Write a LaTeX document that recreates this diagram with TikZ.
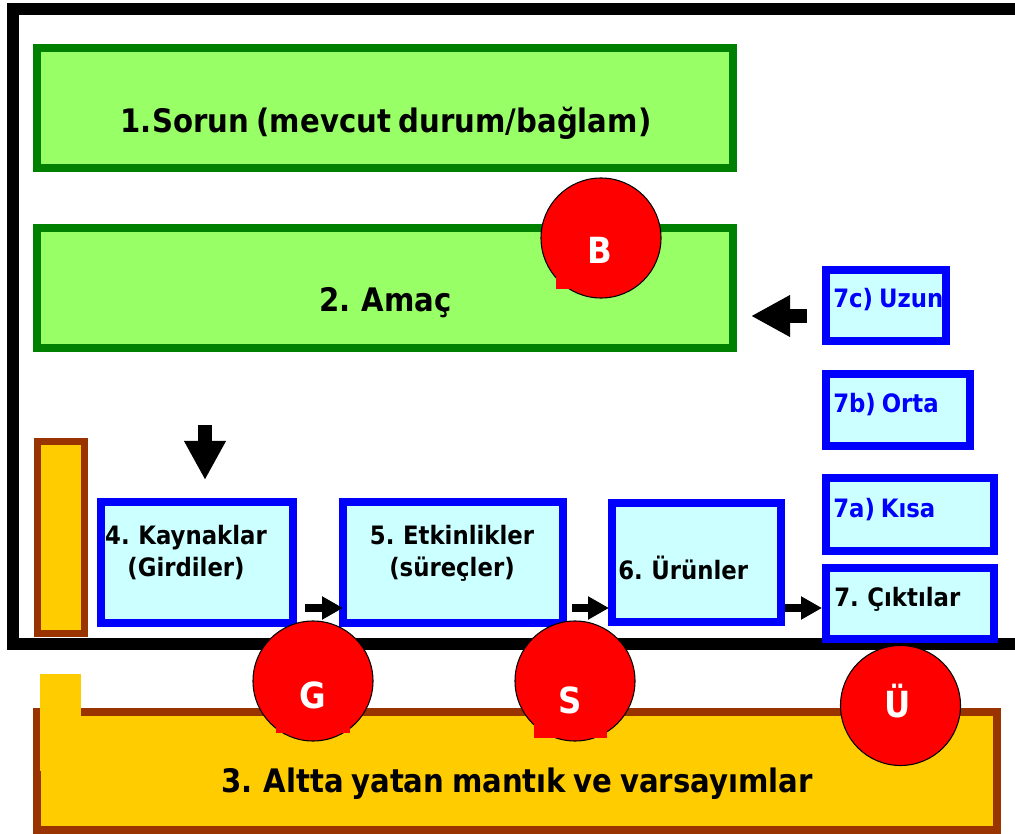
\documentclass[tikz,border=0pt]{standalone}
\usepackage{fontspec}
\setmainfont{DejaVu Sans}[FakeStretch=0.9, WordSpace=0.75]
\usetikzlibrary{arrows.meta,calc}
\definecolor{gfill}{HTML}{99FF66}
\definecolor{gline}{HTML}{008000}
\definecolor{cfill}{HTML}{CCFFFF}
\definecolor{bline}{HTML}{0000FF}
\definecolor{ofill}{HTML}{FFCC00}
\definecolor{oline}{HTML}{993300}
\definecolor{rfill}{HTML}{FF0000}
\begin{document}
\begin{tikzpicture}[x=0.75pt,y=-0.75pt,
  gbox/.style={draw=gline, fill=gfill, line width=6pt, inner sep=0pt, outer sep=0pt, rectangle},
  cbox/.style={draw=bline, fill=cfill, line width=6pt, inner sep=0pt, outer sep=0pt, rectangle},
  obox/.style={draw=oline, fill=ofill, inner sep=0pt, outer sep=0pt, rectangle},
  rdot/.style={circle, draw=black, line width=0.8pt, fill=rfill, minimum size=90pt, inner sep=0pt, outer sep=0pt},
  rsq/.style={fill=rfill, draw=none},
  big/.style={font=\fontsize{24.3}{30}\selectfont\bfseries, inner sep=0pt},
  small/.style={font=\fontsize{19}{24}\selectfont\bfseries, inner sep=0pt, align=center},
  letter/.style={font=\fontsize{27}{30}\selectfont\bfseries, text=white, inner sep=0pt},
  smallarrow/.style={line width=6pt, -{Triangle[length=15.75pt, width=16.5pt]}},
  bigarrow/.style={line width=10.5pt, -{Triangle[length=29.25pt, width=29.25pt]}}
]
\useasboundingbox (0,0) rectangle (1015,834);
\clip (0,0) rectangle (1015,834);
\fill[white] (0,0) rectangle (1015,834);

% frame
\draw[line width=9pt, line join=miter] (1040,9) -- (13,9) -- (13,644) -- (1040,644);

% green boxes
\node[gbox, minimum width=522pt, minimum height=90pt] (sorun) at (385,108) {};
\node[big] (sorunt) at (386,123) {1.Sorun (mevcut durum/bağlam)};
\node[gbox, minimum width=522pt, minimum height=90pt] (amac) at (385,288) {};
\node[big] (amact) at (385.5,303) {2. Amaç};

% circle B
\node[rdot] (cb) at (601,238) {};
\fill[rsq] (556,277) rectangle (570,289);
\node[letter] (cbt) at (600,250) {B};

% result boxes
\node[cbox, minimum width=90pt, minimum height=53.6pt] (u7c) at (886,305.25) {};
\node[small, anchor=west, text=bline] (u7ct) at (833,300) {7c) Uzun};
\node[cbox, minimum width=108pt, minimum height=54pt] (u7b) at (898,410) {};
\node[small, anchor=west, text=bline] (u7bt) at (833,405) {7b) Orta};
\node[cbox, minimum width=126pt, minimum height=54pt] (u7a) at (910,514.5) {};
\node[small, anchor=west, text=bline] (u7at) at (833,510) {7a) Kısa};
\node[cbox, minimum width=126pt, minimum height=53.25pt] (k7) at (910,603.5) {};
\node[small, anchor=west] (k7t) at (834,599) {7. Çıktılar};

% process boxes
\node[cbox, minimum width=144pt, minimum height=90.75pt] (k4) at (197,562.5) {};
\node[small] (k4t) at (186,553) {4. Kaynaklar\\(Girdiler)};
\node[cbox, minimum width=165pt, minimum height=90.75pt] (k5) at (453,562.5) {};
\node[small] (k5t) at (452,553) {5. Etkinlikler\\(süreçler)};
\node[cbox, minimum width=126.75pt, minimum height=89.25pt] (k6) at (696.5,562.5) {};
\node[small, anchor=west] (k6t) at (618,568) {6. Ürünler};

% arrows
\draw[bigarrow] ($(u7c.west)+(-19,10.75)$) -- ($(amac.east)+(18,28)$);
\draw[bigarrow] ($(k4.north)+(8,-77)$) -- ($(k4.north)+(8,-22)$);
\draw[smallarrow] ($(k4.east)+(12,45.5)$) -- ($(k5.west)+(0,45.5)$);
\draw[smallarrow] ($(k5.east)+(9,45.5)$) -- ($(k6.west)+(-3,45.5)$);
\draw[smallarrow] ($(k6.east)+(4,45.5)$) -- ($(k7.west)+(-4,4.5)$);

% orange bar
\node[obox, line width=5.25pt, minimum width=35.6pt, minimum height=144pt] (bar) at (61.25,537.5) {};

% bottom box
\node[obox, line width=6pt, minimum width=720pt, minimum height=88.5pt] (mantik) at (517,771) {};
\fill[ofill] (40,674) rectangle (81,771);
\node[big] (mantikt) at (517,784) {3. Altta yatan mantık ve varsayımlar};

% circles
\node[rdot] (cg) at (313,681) {};
\fill[rsq] (276,724) rectangle (350,733);
\node[letter] (cgt) at (313,695) {G};
\node[rdot] (cs) at (575,681) {};
\fill[rsq] (534,723) rectangle (607,738);
\node[letter] (cst) at (570,700) {S};
\node[rdot] (cu) at (900.5,705.5) {};
\node[letter] (cut) at (898,701) {Ü};
\end{tikzpicture}
\end{document}
